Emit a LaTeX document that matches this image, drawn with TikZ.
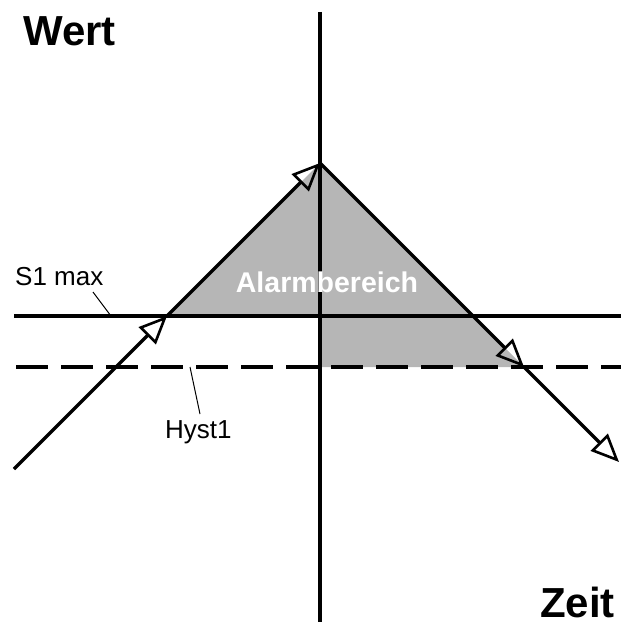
\documentclass[tikz,border=0pt]{standalone}
\usepackage{fontspec}
\setmainfont{Liberation Sans}
\usetikzlibrary{arrows.meta}
\begin{document}
\begin{tikzpicture}[x=1pt,y=-1pt,
  mainline/.style={line width=3.2pt,black},
  flow/.style={mainline,-{Triangle[open,length=28pt,width=24pt,line width=2.6pt]}},
  leader/.style={line width=1pt,black},
  lbl/.style={inner sep=0pt,font=\fontsize{26}{31}\selectfont},
  axislbl/.style={inner sep=0pt,font=\fontsize{42}{50}\selectfont\bfseries}]
\useasboundingbox (0,0) rectangle (621,626);
% key points
\coordinate (P0) at (14,469);
\coordinate (A) at (167,316);
\coordinate (T) at (320,163);
\coordinate (B) at (524,367);
\coordinate (E) at (619,462);
\coordinate (C1) at (320,316);
\coordinate (C2) at (320,367);
\coordinate (Vtop) at (320,12);
\coordinate (Vbot) at (320,622);
\coordinate (Sl) at (14,316);
\coordinate (Sr) at (621,316);
\coordinate (Hl) at (14,367);
\coordinate (Hr) at (621,367);
% alarm area
\fill[fill={rgb,255:red,182;green,182;blue,182}] (A) -- (T) -- (B) -- (C2) -- (C1) -- cycle;
% axes and thresholds
\draw[mainline] (Vtop) -- (Vbot);
\draw[mainline] (Sl) -- (Sr);
\draw[mainline,dash pattern=on 32pt off 13pt,dash phase=-2pt] (Hl) -- (Hr);
% signal path
\draw[flow] (P0) -- (A);
\draw[flow] (A) -- (T);
\draw[flow] (T) -- (B);
\draw[flow] (B) -- (E);
\node[inner sep=0pt,text=white,font=\fontsize{28.5}{34}\selectfont\bfseries] (alarm) at (327,282) {Alarmbereich};
% labels
\node[axislbl,anchor=base west] (wert) at (23,46) {Wert};
\node[axislbl,anchor=base east] (zeit) at (615,617) {Zeit};
\node[lbl,anchor=base west] (s1) at (15,285) {S1 max};
\node[lbl,anchor=base west] (hyst) at (165,438) {Hyst1};
\coordinate (s1a) at (93,292);
\coordinate (s1b) at (111,316);
\coordinate (h1a) at (190,367);
\coordinate (h1b) at (200,414);
\draw[leader] (s1a) -- (s1b);
\draw[leader] (h1a) -- (h1b);
\end{tikzpicture}
\end{document}
